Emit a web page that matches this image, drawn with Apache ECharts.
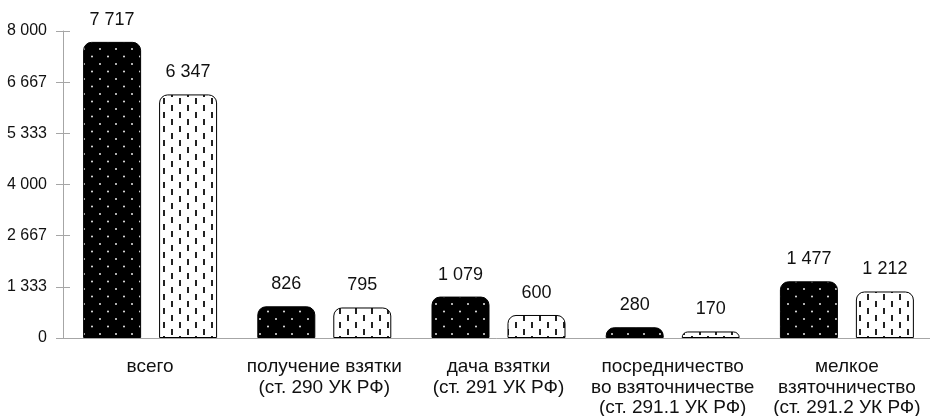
<!DOCTYPE html>
<html>
<head>
<meta charset="utf-8">
<script src="https://cdn.jsdelivr.net/npm/echarts@6/dist/echarts.min.js"></script>
<style>
html,body{margin:0;padding:0;background:#fff;}
#chart{width:930px;height:416px;}
</style>
</head>
<body>
<div id="chart"></div>
<script>
const categories = [
  'всего',
  'получение взятки\n(ст. 290 УК РФ)',
  'дача взятки\n(ст. 291 УК РФ)',
  'посредничество\nво взяточничестве\n(ст. 291.1 УК РФ)',
  'мелкое\nвзяточничество\n(ст. 291.2 УК РФ)'
];
const seriesDark = [7717, 826, 1079, 280, 1477];
const seriesLight = [6347, 795, 600, 170, 1212];
const yTickLabels = ['0', '1 333', '2 667', '4 000', '5 333', '6 667', '8 000'];
const yMax = 8000;
const ySteps = 6;

function fmt(v) {
  return String(v).replace(/\B(?=(\d{3})+(?!\d))/g, ' ');
}

function dotPattern() {
  const c = document.createElement('canvas');
  c.width = 16; c.height = 15;
  const g = c.getContext('2d');
  g.fillStyle = '#000';
  g.fillRect(0, 0, 16, 15);
  g.fillStyle = '#e8e8e8';
  g.beginPath(); g.arc(4, 4, 1, 0, Math.PI * 2); g.fill();
  g.beginPath(); g.arc(12, 11.5, 1, 0, Math.PI * 2); g.fill();
  return c;
}
function dashPattern() {
  const c = document.createElement('canvas');
  c.width = 16; c.height = 14;
  const g = c.getContext('2d');
  g.fillStyle = '#fff';
  g.fillRect(0, 0, 16, 14);
  g.fillStyle = '#222';
  g.fillRect(3, 0, 2, 6);
  g.fillRect(11, 7, 2, 6);
  return c;
}

const font = '"Liberation Sans", Arial, sans-serif';
const axisGray = '#a6a6a6';
const chart = echarts.init(document.getElementById('chart'));
const yIntervalVal = yMax / ySteps;

chart.setOption({
  animation: false,
  textStyle: { fontFamily: font },
  grid: { left: 63, top: 31, width: 871, height: 307, containLabel: false, outerBoundsMode: 'none' },
  xAxis: [{
    type: 'category',
    data: categories,
    axisLine: { lineStyle: { color: axisGray, width: 1 } },
    axisTick: { alignWithLabel: true, length: 7, lineStyle: { color: axisGray } },
    axisLabel: { color: '#111', fontSize: 19, lineHeight: 20.5, margin: 19, fontFamily: font, interval: 0 }
  }, {
    type: 'category',
    data: categories,
    position: 'bottom',
    axisLine: { show: false },
    axisTick: { alignWithLabel: true, inside: true, length: 6, lineStyle: { color: axisGray } },
    axisLabel: { show: false }
  }],
  yAxis: [{
    type: 'value',
    min: 0, max: yMax, interval: yIntervalVal,
    splitLine: { show: false },
    axisLine: { show: true, lineStyle: { color: axisGray } },
    axisTick: { show: true, length: 7, lineStyle: { color: axisGray } },
    axisLabel: {
      color: '#111', fontSize: 16, margin: 16, fontFamily: font,
      formatter: (v) => yTickLabels[Math.round(v / yIntervalVal)]
    }
  }, {
    type: 'value',
    min: 0, max: yMax, interval: yIntervalVal,
    position: 'left',
    splitLine: { show: false },
    axisLine: { show: false },
    axisTick: { show: true, inside: true, length: 7, lineStyle: { color: axisGray } },
    axisLabel: { show: false }
  }],
  series: [{
    type: 'bar',
    data: seriesDark,
    barWidth: 58,
    barGap: '31%',
    itemStyle: {
      color: { image: dotPattern(), repeat: 'repeat' },
      borderColor: '#000', borderWidth: 1, borderRadius: [8, 8, 0, 0]
    },
    label: { show: true, position: 'top', distance: 13, color: '#111', fontSize: 18, fontFamily: font, formatter: (p) => fmt(p.value) }
  }, {
    type: 'bar',
    data: seriesLight,
    barWidth: 58,
    itemStyle: {
      color: { image: dashPattern(), repeat: 'repeat' },
      borderColor: '#000', borderWidth: 1, borderRadius: [8, 8, 0, 0]
    },
    label: { show: true, position: 'top', distance: 13, color: '#111', fontSize: 18, fontFamily: font, formatter: (p) => fmt(p.value) }
  }]
});
</script>
</body>
</html>
